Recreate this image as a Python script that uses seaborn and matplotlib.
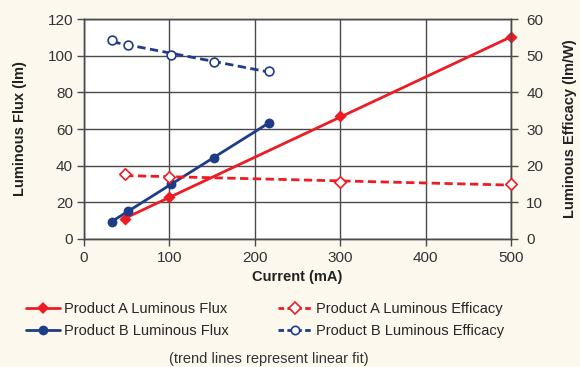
import numpy as np
import pandas as pd
import seaborn as sns
import matplotlib.pyplot as plt
from matplotlib.lines import Line2D

sns.set_theme(style="white")
plt.rcParams['font.family'] = ['Liberation Sans', 'DejaVu Sans']

# data
current_a = [48, 100, 300, 500]
flux_a = [10.9, 22.9, 67.0, 110.0]
efficacy_a = [17.6, 16.8, 15.5, 14.9]

current_b = [33, 51, 102, 152, 217]
flux_b = [9.3, 15.4, 29.8, 44.4, 63.5]
efficacy_b = [54.2, 52.9, 50.2, 48.3, 45.8]

x_ticks = [0, 100, 200, 300, 400, 500]
flux_ticks = [0, 20, 40, 60, 80, 100, 120]
eff_ticks = [0, 10, 20, 30, 40, 50, 60]

red = "#ED1C24"
blue = "#1F3C88"
grid_col = "#4a4a4a"
bg = "#FDF8EE"

df_a = pd.DataFrame({"current": current_a, "flux": flux_a, "eff": efficacy_a})
df_b = pd.DataFrame({"current": current_b, "flux": flux_b, "eff": efficacy_b})

fig = plt.figure(figsize=(5.8, 3.67), dpi=100, facecolor=bg)
ax = fig.add_axes([0.145, 0.349, 0.736, 0.599])
ax.set_facecolor("white")
ax2 = ax.twinx()

# luminous flux, left axis
sns.regplot(data=df_a, x="current", y="flux", ax=ax, ci=None, truncate=True,
            marker="D", color=red,
            scatter_kws={"s": 38, "alpha": 1, "zorder": 3, "linewidths": 0, "clip_on": False},
            line_kws={"lw": 2, "zorder": 2})
sns.regplot(data=df_b, x="current", y="flux", ax=ax, ci=None, truncate=True,
            marker="o", color=blue,
            scatter_kws={"s": 50, "alpha": 1, "zorder": 3, "linewidths": 0, "clip_on": False},
            line_kws={"lw": 2, "zorder": 2})

# luminous efficacy, right axis
sns.regplot(data=df_a, x="current", y="eff", ax=ax2, ci=None, truncate=True,
            marker="D", color=red,
            scatter_kws={"s": 34, "alpha": 1, "zorder": 3, "facecolors": "white",
                         "edgecolors": red, "linewidths": 1.2, "clip_on": False},
            line_kws={"lw": 2, "ls": (0, (3, 1.6)), "zorder": 2})
sns.regplot(data=df_b, x="current", y="eff", ax=ax2, ci=None, truncate=True,
            marker="o", color=blue,
            scatter_kws={"s": 40, "alpha": 1, "zorder": 3, "facecolors": "white",
                         "edgecolors": blue, "linewidths": 1.2, "clip_on": False},
            line_kws={"lw": 2, "ls": (0, (3, 1.6)), "zorder": 2})

ax.set_xlim(0, 500)
ax.set_ylim(0, 120)
ax2.set_ylim(0, 60)
ax.set_xticks(x_ticks)
ax.set_yticks(flux_ticks)
ax2.set_yticks(eff_ticks)

ax.grid(True, color=grid_col, lw=1)
ax.set_axisbelow(True)
for a in (ax, ax2):
    for s in a.spines.values():
        s.set_color(grid_col)
        s.set_linewidth(1)
ax.tick_params(axis="y", colors=grid_col, labelcolor="#333333", labelsize=11,
               length=5, width=1, direction="out", pad=3, left=True)
ax.tick_params(axis="x", colors=grid_col, labelcolor="#333333", labelsize=11,
               length=5, width=1, direction="out", pad=4, bottom=True)
ax2.tick_params(axis="y", colors=grid_col, labelcolor="#333333", labelsize=11,
                length=5, width=1, direction="out", pad=6, right=True)

ax.set_xlabel("Current (mA)", fontsize=10.5, fontweight="bold", color="#222222", labelpad=3)
ax.set_ylabel("Luminous Flux (lm)", fontsize=10.5, fontweight="bold", color="#222222", labelpad=15)
ax2.set_ylabel("Luminous Efficacy (lm/W)", fontsize=10.5, fontweight="bold", color="#222222", labelpad=14)

handles = [
    Line2D([], [], color=red, lw=2, marker="D", markersize=6, markeredgewidth=0),
    Line2D([], [], color=blue, lw=2, marker="o", markersize=7, markeredgewidth=0),
    Line2D([], [], color=red, lw=2, ls=(0, (2, 1.2)), marker="D", markersize=6,
           markerfacecolor="white", markeredgecolor=red, markeredgewidth=1.2),
    Line2D([], [], color=blue, lw=2, ls=(0, (2, 1.2)), marker="o", markersize=6,
           markerfacecolor="white", markeredgecolor=blue, markeredgewidth=1.2),
]
labels = ["Product A Luminous Flux", "Product B Luminous Flux",
          "Product A Luminous Efficacy", "Product B Luminous Efficacy"]
fig.legend(handles, labels, ncol=2, loc="upper left", bbox_to_anchor=(0.045, 0.176),
           frameon=False, fontsize=10.5, handlelength=2.3, handletextpad=0.3,
           columnspacing=3.4, labelspacing=0.5, borderaxespad=0, borderpad=0)

fig.text(0.463, 0.022, "(trend lines represent linear fit)", ha="center", va="center",
         fontsize=10.5, color="#333333")

fig.savefig("out.png", dpi=100, facecolor=bg)
